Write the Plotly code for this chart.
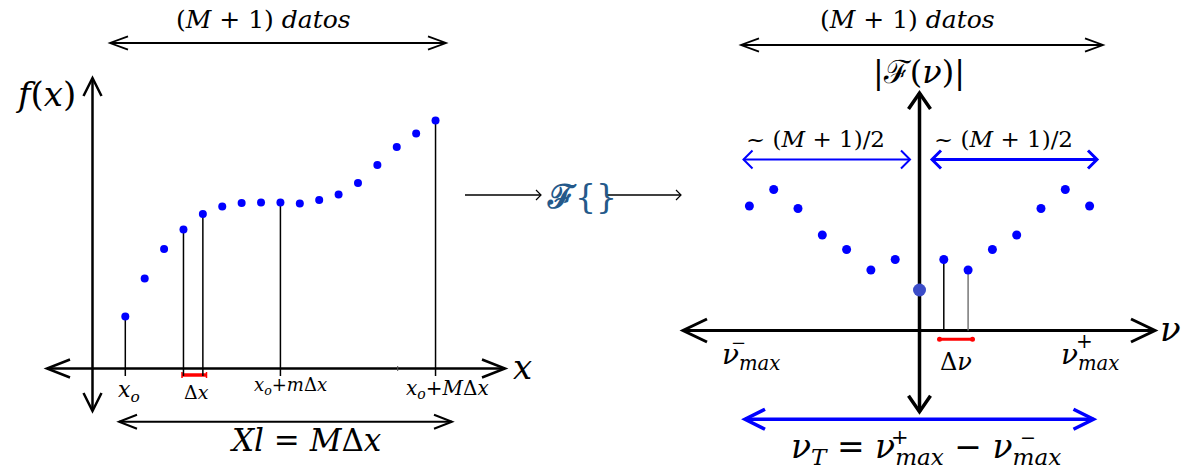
import plotly.graph_objects as go

# ---------------- data ----------------
n_idx = list(range(17))                      # sample index 0..M (M = 16)
f_vals = [1.04, 1.80, 2.39, 2.78, 3.09, 3.24, 3.31, 3.32, 3.32, 3.30,
          3.37, 3.48, 3.71, 4.07, 4.43, 4.70, 4.96]
stem_idx = [0, 3, 4, 8, 16]                  # x_o, x_o+Δx (pair), x_o+mΔx, x_o+MΔx

k_idx = list(range(-7, 8))                   # frequency index
F_vals = [2.49, 2.82, 2.44, 1.91, 1.62, 1.21, 1.42, 0.81,
          1.42, 1.21, 1.62, 1.91, 2.44, 2.82, 2.49]
F_stem_idx = [1, 2]

W, H = 1184, 471
BLUE = "#0000ff"
SERIF = "DejaVu Serif"

fig = go.Figure()

# ---- left panel: stems + samples (x / y axes) ----
sx, sy = [], []
for i in stem_idx:
    sx += [n_idx[i], n_idx[i], None]
    sy += [f_vals[i], -0.15, None]
fig.add_trace(go.Scatter(x=sx, y=sy, mode="lines", line=dict(color="black", width=1.5),
                         xaxis="x", yaxis="y", hoverinfo="skip", showlegend=False))
fig.add_trace(go.Scatter(x=n_idx, y=f_vals, mode="markers",
                         marker=dict(color=BLUE, size=8), xaxis="x", yaxis="y",
                         showlegend=False))

# ---- right panel: stems + spectrum (x2 / y2 axes) ----
stem_colors = ["black", "#777777"]
for c, kk in zip(stem_colors, F_stem_idx):
    j = k_idx.index(kk)
    fig.add_trace(go.Scatter(x=[kk, kk], y=[F_vals[j], 0], mode="lines",
                             line=dict(color=c, width=1.5), xaxis="x2", yaxis="y2",
                             hoverinfo="skip", showlegend=False))
side = [i for i, k in enumerate(k_idx) if k != 0]
fig.add_trace(go.Scatter(x=[k_idx[i] for i in side], y=[F_vals[i] for i in side],
                         mode="markers", marker=dict(color=BLUE, size=9),
                         xaxis="x2", yaxis="y2", showlegend=False))
j0 = k_idx.index(0)
fig.add_trace(go.Scatter(x=[0], y=[F_vals[j0]], mode="markers",
                         marker=dict(color="#3b4cc8", size=13),
                         xaxis="x2", yaxis="y2", showlegend=False))

# ---- red Δν bar (pixel canvas x3 / y3) ----
fig.add_trace(go.Scatter(x=[939.5, 972.5], y=[339.3, 339.3], mode="lines+markers",
                         line=dict(color="red", width=3), marker=dict(color="red", size=5),
                         xaxis="x3", yaxis="y3", hoverinfo="skip", showlegend=False))

shapes = []


def seg(x0, y0, x1, y1, w, color="black"):
    shapes.append(dict(type="line", xref="x3", yref="y3", x0=x0, y0=y0, x1=x1, y1=y1,
                       line=dict(color=color, width=w), layer="below"))


def head(tx, ty, ax1, ay1, ax2, ay2, w, color="black"):
    shapes.append(dict(type="path", xref="x3", yref="y3",
                       path=f"M {ax1},{ay1} L {tx},{ty} L {ax2},{ay2}",
                       line=dict(color=color, width=w), layer="below"))


def harrow(x0, x1, y, w, hl, hh, color="black", left=True, right=True, hw=None):
    hw = hw or w
    seg(x0, y, x1, y, w, color)
    if left:
        head(x0, y, x0 + hl, y - hh, x0 + hl, y + hh, hw, color)
    if right:
        head(x1, y, x1 - hl, y - hh, x1 - hl, y + hh, hw, color)


def varrow(x, y0, y1, w, hl, hh, color="black"):
    seg(x, y0, x, y1, w, color)
    head(x, y0, x - hh, y0 + hl, x + hh, y0 + hl, w, color)
    head(x, y1, x - hh, y1 - hl, x + hh, y1 - hl, w, color)


# left panel decorations
harrow(110, 446, 43, 1.8, 18, 6.7)
varrow(92.5, 78, 411, 2.5, 18, 9)
harrow(47, 505, 368.5, 2.5, 23, 9)
harrow(119, 452, 421.7, 2.0, 18, 7)
seg(397.7, 366, 397.7, 371, 1, "#555555")
seg(182, 375, 206.5, 375, 3.5, "red")
seg(182, 372, 182, 378, 1.5, "red")
seg(206.5, 372, 206.5, 378, 1.5, "red")

# middle arrows
harrow(465, 541, 195, 1.5, 5, 5, left=False, hw=1.2)
harrow(607, 681, 195, 1.5, 5, 5, left=False, hw=1.2)

# right panel decorations
harrow(741, 1103, 45, 1.8, 18, 6.7)
varrow(919.5, 93, 411.7, 3.5, 16, 11)
harrow(683, 1155, 330.5, 3.0, 24, 11.5)
harrow(743.5, 910, 159.5, 2.0, 9, 9, color=BLUE)
harrow(932, 1097, 159.5, 3.0, 9, 9, color=BLUE)
harrow(745, 1093.5, 419.3, 3.5, 20, 10, color=BLUE)

annotations = []


def txt(x, y, s, size, color="black", family=SERIF):
    annotations.append(dict(x=x, y=y, xref="x3", yref="y3", text=s, showarrow=False,
                            xanchor="center", yanchor="middle",
                            font=dict(family=family, size=size, color=color)))


txt(263, 19, "(<i>M</i> + 1) <i>datos</i>", 25)
txt(907, 19, "(<i>M</i> + 1) <i>datos</i>", 25)
txt(45, 94, "<i>f</i>(<i>x</i>)", 34)
txt(522, 367, "<i>x</i>", 34)
txt(129, 391, "<i>x<sub>o</sub></i>", 22)
txt(196, 392, "Δ<i>x</i>", 19)
txt(290, 386, "<i>x<sub>o</sub></i>+<i>m</i>Δ<i>x</i>", 18)
txt(447, 389, "<i>x<sub>o</sub></i>+<i>M</i>Δ<i>x</i>", 20)
txt(306, 440, "<i>Xl</i> = <i>M</i>Δ<i>x</i>", 31)
txt(582, 196, "<b>ℱ</b>{}", 33, color="#24598a")
txt(919, 72, "|ℱ(<i>ν</i>)|", 32)
txt(815, 139, "~ (<i>M</i> + 1)/2", 23)
txt(1003, 139, "~ (<i>M</i> + 1)/2", 23)
txt(1170, 329, "<i>ν</i>", 34)
txt(751, 356, "<i>ν<sub>max</sub></i>", 28)
txt(738, 342, "−", 18)
txt(1090, 356, "<i>ν<sub>max</sub></i>", 28)
txt(1084, 341, "+", 20)
txt(956, 362, "Δ<i>ν</i>", 24)
txt(926, 448, "<i>ν<sub>T</sub></i> = <i>ν<sub>max</sub></i> − <i>ν<sub>max</sub></i>", 33)
txt(900, 437, "+", 21)
txt(1028, 437, "−", 19)

hidden = dict(visible=False, showgrid=False, zeroline=False, fixedrange=True)
fig.update_layout(
    width=W, height=H, margin=dict(l=0, r=0, t=0, b=0),
    paper_bgcolor="white", plot_bgcolor="white", showlegend=False,
    xaxis=dict(hidden, domain=[0, 1], range=[-125.3 / 19.39, (W - 125.3) / 19.39]),
    yaxis=dict(hidden, domain=[0, 1], range=[(368.5 - H) / 50, 368.5 / 50]),
    xaxis2=dict(hidden, overlaying="x", anchor="y2", range=[-919.5 / 24.3, (W - 919.5) / 24.3]),
    yaxis2=dict(hidden, overlaying="y", anchor="x2", range=[(330.5 - H) / 50, 330.5 / 50]),
    xaxis3=dict(hidden, overlaying="x", anchor="y3", range=[0, W]),
    yaxis3=dict(hidden, overlaying="y", anchor="x3", range=[H, 0]),
    shapes=shapes, annotations=annotations,
)

fig.write_html("out.html", config={"displayModeBar": False})
